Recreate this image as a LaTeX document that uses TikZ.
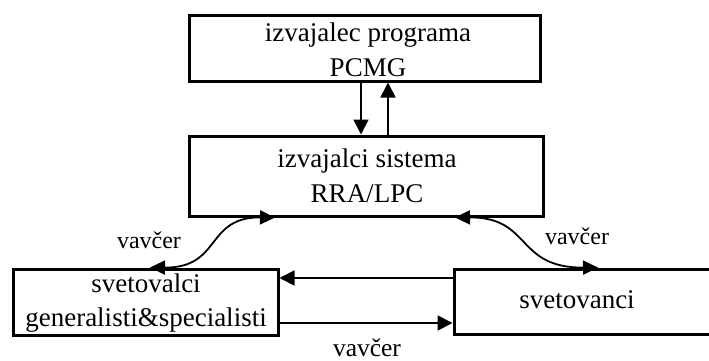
\documentclass[tikz,border=0pt]{standalone}
\usepackage{fontspec}
\setmainfont{Liberation Serif}
\usetikzlibrary{arrows.meta}
\begin{document}
\begin{tikzpicture}[x=1pt,y=-1pt,
  box/.style={draw,line width=3pt,inner sep=0pt,minimum width=#1},
  txt/.style={anchor=base,inner sep=0pt,font=\fontsize{27}{32}\selectfont},
  lbl/.style={anchor=base,inner sep=0pt,font=\fontsize{24}{28}\selectfont},
  arr/.style={line width=1.8pt,-{Triangle[length=15pt,width=15pt]}},
  darr/.style={line width=1.8pt,{Triangle[length=15pt,width=14pt]}-{Triangle[length=15pt,width=14pt]}}]
\useasboundingbox (0,0) rectangle (709,361);
\clip (0,0) rectangle (709,361);
% boxes
\node[box=351pt,minimum height=65pt] (top) at (364.5,48.5) {};
\node[box=354pt,minimum height=80pt] (mid) at (366,176) {};
\node[box=265pt,minimum height=66pt] (bl) at (145.5,302) {};
\node[box=266pt,minimum height=65pt] (br) at (587,301.5) {};
% texts
\node[txt] (t1) at (368,42) {izvajalec programa};
\node[txt] (t2) at (368,77) {PCMG};
\node[txt] (m1) at (367,167) {izvajalci sistema};
\node[txt] (m2) at (367,202) {RRA/LPC};
\node[txt] (b1) at (146,292) {svetovalci};
\node[txt] (b2) at (146,326) {generalisti\&specialisti};
\node[txt] (r1) at (577,308) {svetovanci};
\node[lbl] (v1) at (149,248) {vavčer};
\node[lbl] (v2) at (577,244) {vavčer};
\node[lbl,font=\fontsize{25.5}{30}\selectfont] (v3) at (367,356) {vavčer};
% vertical arrows
\draw[arr] (top.south -| 361,0) -- (mid.north -| 361,0);
\draw[arr] (mid.north -| 388,0) -- (top.south -| 388,0);
% horizontal arrows
\draw[arr] (br.west |- 0,278) -- (bl.east |- 0,278);
\draw[arr] (bl.east |- 0,323) -- (br.west |- 0,323);
% curved arrows
\coordinate (cl1) at (bl.north -| 150,0);
\coordinate (cl2) at (mid.south -| 275,0);
\draw[darr] (cl1) .. controls (222,268) and (205,217) .. (cl2);
\coordinate (cr1) at (mid.south -| 455,0);
\coordinate (cr2) at (br.north -| 598,0);
\draw[darr] (cr1) .. controls (532,217) and (515,268) .. (cr2);
\end{tikzpicture}
\end{document}
